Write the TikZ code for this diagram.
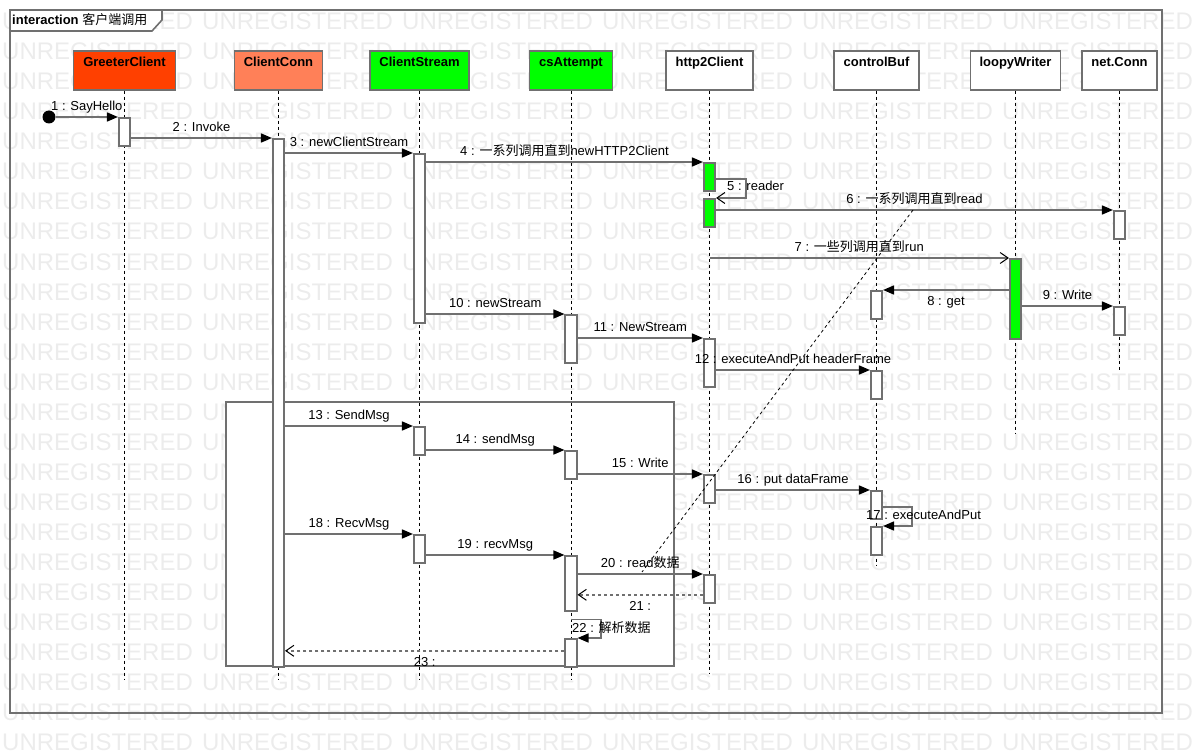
\documentclass[tikz,border=0pt]{standalone}
\usepackage{fontspec}
\setmainfont{Liberation Sans}
\newfontfamily\cjk{Noto Sans CJK SC}
\usepackage{tikz}
\usetikzlibrary{arrows.meta}

\definecolor{linegray}{RGB}{112,112,112}
\definecolor{wmgray}{RGB}{236,236,236}
\definecolor{gcred}{RGB}{255,64,0}
\definecolor{cccoral}{RGB}{255,128,88}
\definecolor{actgreen}{RGB}{0,255,0}

\begin{document}
\begin{tikzpicture}[x=1pt,y=-1pt,
    every node/.style={font=\fontsize{13}{15}\selectfont},
    head/.style={draw=linegray, line width=1.6pt, fill=white, minimum height=39pt, anchor=north, inner sep=0pt},
    headlbl/.style={label={[anchor=north, inner sep=7pt, font=\fontsize{13}{15}\selectfont\bfseries]north:#1}},
    act/.style={draw=linegray, line width=1.6pt, fill=white, minimum width=11.5pt, anchor=north, inner sep=0pt},
    lifeline/.style={black, line width=0.9pt, dash pattern=on 3pt off 3pt},
    msg/.style={draw=linegray, line width=1.6pt, -{Triangle[length=11pt,width=9pt,color=black]}},
    msgopen/.style={draw=linegray, line width=1.6pt, -{Straight Barb[length=8pt,width=11pt,color=black,line width=1pt]}},
    ret/.style={msgopen, dash pattern=on 3pt off 3pt},
    lbl/.style={inner sep=0pt, text height=9.5pt, text depth=2.5pt},
    wm/.style={text=wmgray, font=\fontsize{24}{24}\selectfont, anchor=base west, inner sep=0pt}]

\useasboundingbox (0,0) rectangle (1202,754);
\clip (0,0) rectangle (1202,754);

% watermark
\foreach \r in {0,...,24}
  \foreach \c in {0,...,6}
    \node[wm] (wm-\r-\c) at (2+200*\c, 30+30*\r) {UNREGISTERED};

% frame and title tab
\draw[linegray, line width=1.6pt] (10,10) rectangle (1162,713);
\draw[linegray, line width=1.6pt, fill=white] (10,10) -- (162,10) -- (162,20) -- (152,31) -- (10,31) -- cycle;
\node[anchor=base west, inner sep=0pt] (title) at (12,25) {\textbf{interaction} {\cjk 客户端调用}};

% loop fragment
\draw[linegray, line width=1.6pt, fill=white] (226,402) rectangle (674,666);

% lifeline heads
\node[head, fill=gcred, minimum width=102pt, headlbl=GreeterClient] (gc) at (124.5,50) {};
\node[head, fill=cccoral, minimum width=88pt, headlbl=ClientConn] (cc) at (278.5,50) {};
\node[head, fill=actgreen, minimum width=99pt, headlbl=ClientStream] (cs) at (419.5,50) {};
\node[head, fill=actgreen, minimum width=83pt, headlbl=csAttempt] (ca) at (571,50) {};
\node[head, minimum width=87pt, headlbl=http2Client] (h) at (709.5,50) {};
\node[head, minimum width=85pt, headlbl=controlBuf] (cb) at (876.5,50) {};
\node[head, minimum width=90pt, headlbl=loopyWriter] (lw) at (1015.5,50) {};
\node[head, minimum width=75pt, headlbl=net.Conn] (nc) at (1119.5,50) {};

\foreach \n/\e in {gc/680,cc/680,cs/680,ca/680,h/673,cb/566,lw/433,nc/370}
  \draw[lifeline] (\n.south) -- (\n.south |- 0,\e);

% activations
\node[act, minimum height=28pt] (gc1) at (124.5,117) {};
\node[act, minimum height=528pt] (cc1) at (278.5,138) {};
\node[act, minimum height=169pt] (cs1) at (419.5,153) {};
\node[act, fill=actgreen, minimum height=28pt] (h1) at (709.5,162) {};
\node[act, fill=actgreen, minimum height=28pt] (h2) at (709.5,198) {};
\node[act, minimum height=28pt] (nc1) at (1119.5,210) {};
\node[act, fill=actgreen, minimum height=80pt] (lw1) at (1015.5,258) {};
\node[act, minimum height=28pt] (cb1) at (876.5,290) {};
\node[act, minimum height=28pt] (nc2) at (1119.5,306) {};
\node[act, minimum height=48pt] (ca1) at (571,314) {};
\node[act, minimum height=48pt] (h3) at (709.5,338) {};
\node[act, minimum height=28pt] (cb2) at (876.5,370) {};
\node[act, minimum height=28pt] (cs2) at (419.5,426) {};
\node[act, minimum height=28pt] (ca2) at (571,450) {};
\node[act, minimum height=28pt] (h4) at (709.5,474) {};
\node[act, minimum height=28pt] (cb3) at (876.5,490) {};
\node[act, minimum height=28pt] (cb4) at (876.5,526) {};
\node[act, minimum height=28pt] (cs3) at (419.5,534) {};
\node[act, minimum height=55pt] (ca3) at (571,555) {};
\node[act, minimum height=28pt] (h5) at (709.5,574) {};
\node[act, minimum height=28pt] (ca4) at (571,638) {};

% messages
\node[circle, fill=black, minimum size=13pt, inner sep=0pt] (start) at (49,117) {};
\draw[msg] (start) -- (gc1.north west) node[lbl, midway, above=3pt] {1 : SayHello};
\draw[msg] (gc1.east |- cc1.north) -- (cc1.north west) node[lbl, midway, above=3pt] {2 : Invoke};
\draw[msg] (cc1.east |- cs1.north) -- (cs1.north west) node[lbl, midway, above=3pt] {3 : newClientStream};
\draw[msg] (cs1.east |- h1.north) -- (h1.north west) node[lbl, midway, above=3pt] {4 : {\cjk 一系列调用直到}newHTTP2Client};
\draw[msgopen] ([yshift=-2pt]h1.east) -- ++(30,0) |- (h2.north east);
\node[lbl, anchor=base west] (l5) at (727,191) {5 : reader};
\draw[msg] (h2.east |- nc1.north) -- (nc1.north west) node[lbl, midway, above=3pt] {6 : {\cjk 一系列调用直到}read};
\draw[msgopen] (h |- lw1.north) -- (lw1.north west) node[lbl, midway, above=3pt] {7 : {\cjk 一些列调用直到}run};
\draw[msg] (lw1.west |- cb1.north) -- (cb1.north east) node[lbl, midway, below=5pt] {8 : get};
\draw[msg] (lw1.east |- nc2.north) -- (nc2.north west) node[lbl, midway, above=3pt] {9 : Write};
\draw[msg] (cs1.east |- ca1.north) -- (ca1.north west) node[lbl, midway, above=3pt] {10 : newStream};
\draw[msg] (ca1.east |- h3.north) -- (h3.north west) node[lbl, midway, above=3pt] {11 : NewStream};
\draw[msg] (h3.east |- cb2.north) -- (cb2.north west) node[lbl, midway, above=3pt] {12 : executeAndPut headerFrame};
\draw[msg] (cc1.east |- cs2.north) -- (cs2.north west) node[lbl, midway, above=3pt] {13 : SendMsg};
\draw[msg] (cs2.east |- ca2.north) -- (ca2.north west) node[lbl, midway, above=3pt] {14 : sendMsg};
\draw[msg] (ca2.east |- h4.north) -- (h4.north west) node[lbl, midway, above=3pt] {15 : Write};
\draw[msg] (h4.east |- cb3.north) -- (cb3.north west) node[lbl, midway, above=3pt] {16 : put dataFrame};
\draw[msg] ([yshift=-2pt]cb3.east) -- ++(29,0) |- (cb4.north east);
\node[lbl, anchor=base west] (l17) at (866,519) {17 : executeAndPut};
\draw[msg] (cc1.east |- cs3.north) -- (cs3.north west) node[lbl, midway, above=3pt] {18 : RecvMsg};
\draw[msg] (cs3.east |- ca3.north) -- (ca3.north west) node[lbl, midway, above=3pt] {19 : recvMsg};
\draw[msg] (ca3.east |- h5.north) -- (h5.north west) node[lbl, midway, above=3pt] {20 : read{\cjk 数据}};
\coordinate (r21) at ([yshift=-6pt]h5.west);
\draw[ret] (r21) -- (ca3.east |- r21) node[lbl, midway, below=5pt] {21 :};
\coordinate (s22) at ([yshift=-8pt]ca3.south);
\draw[msg] (s22) -- ++(30,0) |- (ca4.north east);
\node[lbl, anchor=base west] (l22) at (572,632) {22 : {\cjk 解析数据}};
\coordinate (r23) at ([yshift=2pt]ca4.west);
\draw[ret] (r23) -- (cc1.east |- r23) node[lbl, midway, below=5pt] {23 :};

% dashed link between read calls
\coordinate (n6) at (913,210);
\coordinate (n20) at (642,572);
\draw[black, line width=0.8pt, dash pattern=on 3pt off 3pt] (n6) -- (n20);
\end{tikzpicture}
\end{document}
